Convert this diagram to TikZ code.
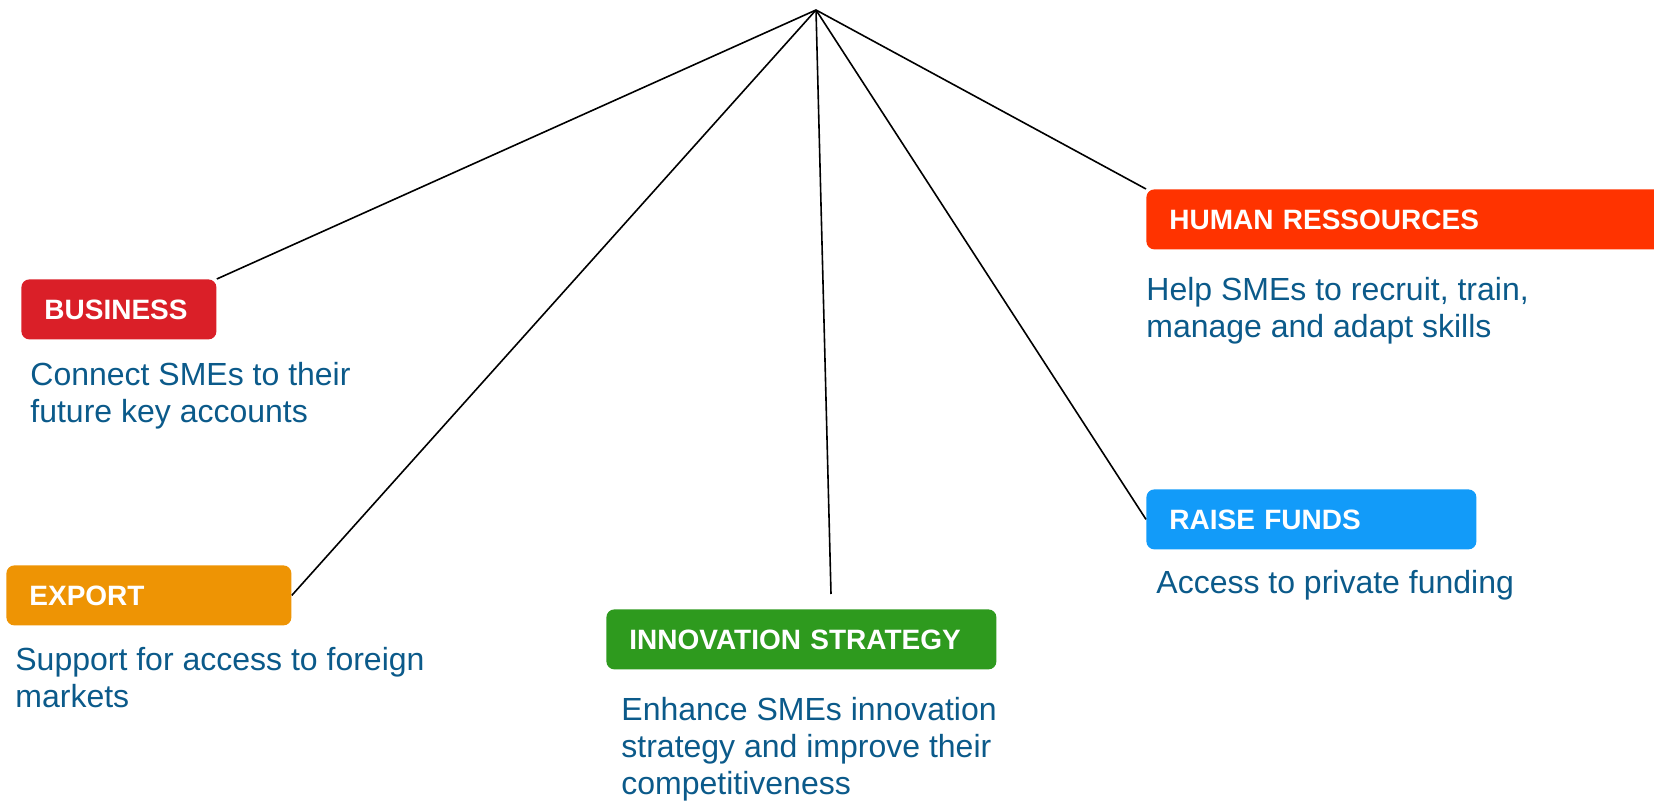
\documentclass[tikz,border=0pt]{standalone}
\usepackage{fontspec}
\setmainfont{Liberation Sans}
\definecolor{cbus}{HTML}{DA1F28}
\definecolor{cexp}{HTML}{EE9404}
\definecolor{cinn}{HTML}{2E9A1E}
\definecolor{chr}{HTML}{FF3300}
\definecolor{cfund}{HTML}{129BF9}
\definecolor{cdesc}{HTML}{0B5A8A}
\tikzset{
  hdr/.style={rounded corners=4pt, draw=none, inner xsep=11.5pt, inner ysep=0pt,
    minimum height=30pt, text=white, align=left, anchor=north west,
    font=\bfseries\fontsize{14}{16}\selectfont},
  desc/.style={inner sep=0pt, anchor=north west, align=left, text=cdesc,
    font=\fontsize{16}{18.5}\selectfont},
  link/.style={draw=black, line width=0.8pt}
}
\begin{document}
\begin{tikzpicture}[x=0.5pt,y=-0.5pt]
\useasboundingbox (0,0) rectangle (1654,802);
\coordinate (hub) at (816,10);
% headers
\node[hdr, fill=cbus, text width=74.5pt] (bus) at (21,279) {BUSINESS};
\node[hdr, fill=cexp, text width=119.5pt] (exp) at (6,565) {EXPORT};
\node[hdr, fill=cinn, text width=172pt] (inn) at (606,609) {INNOVATION STRATEGY};
\node[hdr, fill=chr, text width=237pt] (hr) at (1146,189) {HUMAN RESSOURCES};
\node[hdr, fill=cfund, text width=142pt] (fund) at (1146,489) {RAISE FUNDS};
% descriptions
\node[desc] (busd) at (30,362) {Connect SMEs to their\\future key accounts};
\node[desc] (expd) at (15,647) {Support for access to foreign\\markets};
\node[desc] (innd) at (621,697) {Enhance SMEs innovation\\strategy and improve their\\competitiveness};
\node[desc] (hrd) at (1146,277) {Help SMEs to recruit, train,\\manage and adapt skills};
\node[desc] (fundd) at (1156,570) {Access to private funding};
% connectors
\coordinate (innend) at (831,594);
\draw[link] (hub) -- (bus.north east);
\draw[link] (hub) -- (exp.east);
\draw[link] (hub) -- (innend);
\draw[link] (hub) -- (hr.north west);
\draw[link] (hub) -- (fund.west);
\end{tikzpicture}
\end{document}
